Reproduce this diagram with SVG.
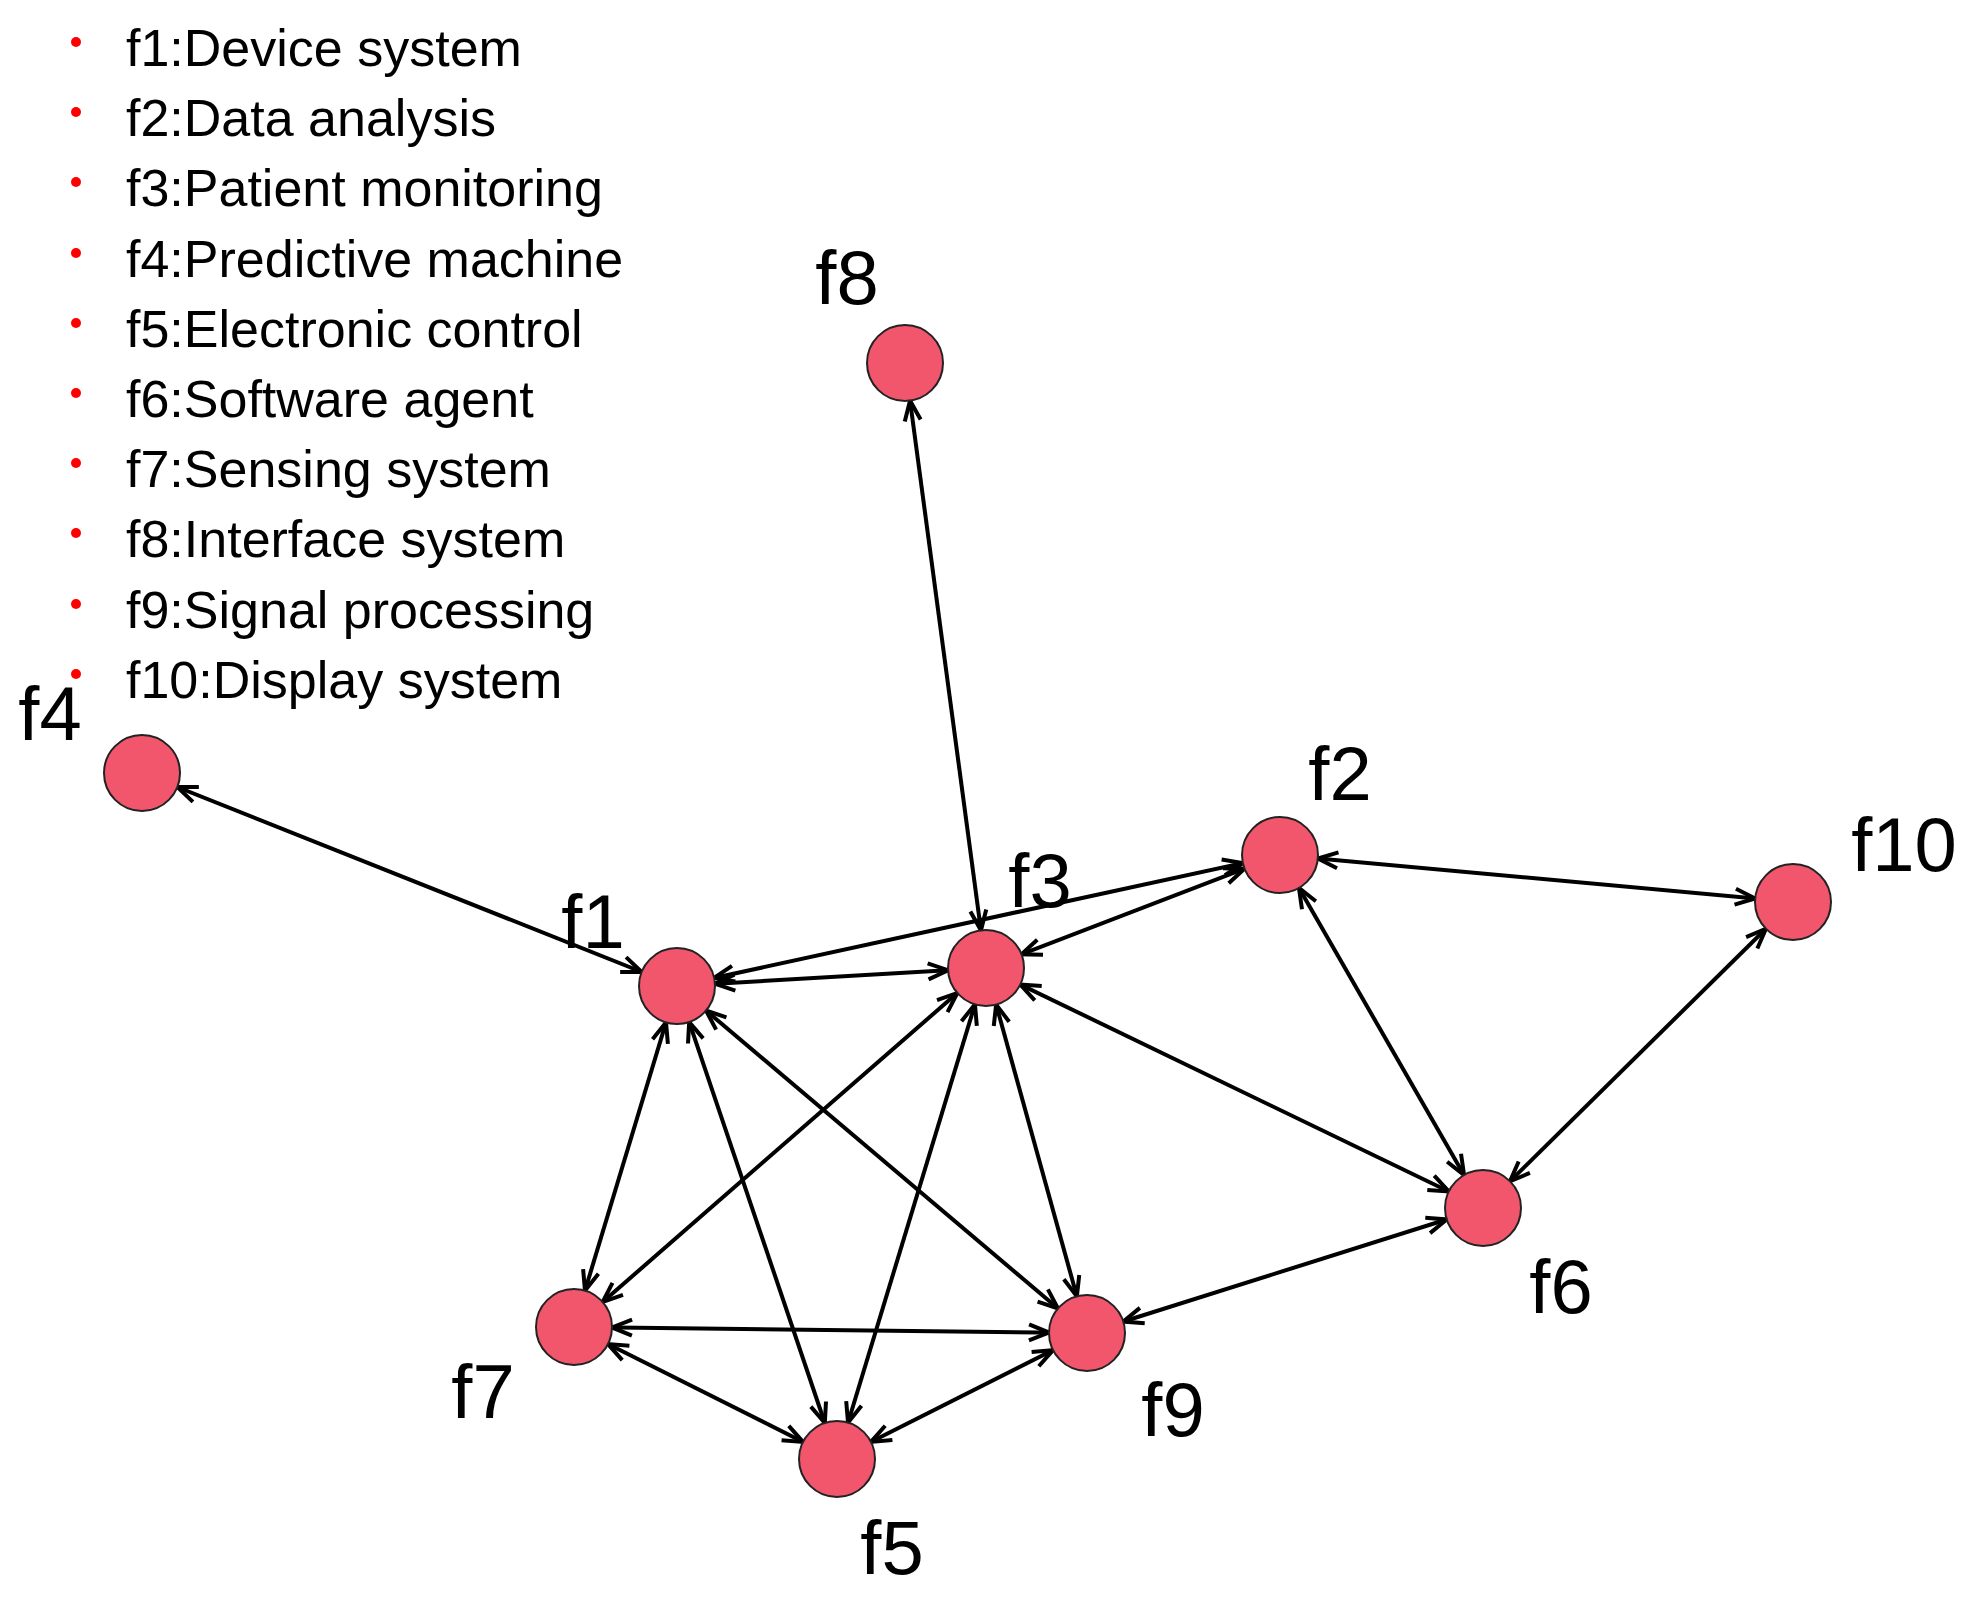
<svg xmlns="http://www.w3.org/2000/svg" width="1977" height="1601" viewBox="0 0 1977 1601">
<style>
.leg{font-family:"Liberation Sans",Arial,sans-serif;font-size:52px;fill:#000}
.lab{font-family:"Liberation Sans",Arial,sans-serif;font-size:76px;fill:#000;text-anchor:middle}
.node{fill:#F2566C;stroke:#222;stroke-width:2}
.e{stroke:#000;stroke-width:4;fill:none;marker-start:url(#ah);marker-end:url(#ah)}
.dot{fill:#ff0000}
</style>
<defs>
<marker id="ah" markerUnits="userSpaceOnUse" orient="auto-start-reverse" refX="38" refY="0" markerWidth="40" markerHeight="40" overflow="visible">
<path d="M-20,-8 L0,0 L-20,8" fill="none" stroke="#000" stroke-width="4"/>
</marker>
</defs>
<rect width="1977" height="1601" fill="#fff"/>
<g id="legend">
<circle class="dot" cx="76" cy="42" r="5"/><text class="leg" x="126" y="66">f1:Device system</text>
<circle class="dot" cx="76" cy="112" r="5"/><text class="leg" x="126" y="136">f2:Data analysis</text>
<circle class="dot" cx="76" cy="182" r="5"/><text class="leg" x="126" y="206">f3:Patient monitoring</text>
<circle class="dot" cx="76" cy="253" r="5"/><text class="leg" x="126" y="277">f4:Predictive machine</text>
<circle class="dot" cx="76" cy="323" r="5"/><text class="leg" x="126" y="347">f5:Electronic control</text>
<circle class="dot" cx="76" cy="393" r="5"/><text class="leg" x="126" y="417">f6:Software agent</text>
<circle class="dot" cx="76" cy="463" r="5"/><text class="leg" x="126" y="487">f7:Sensing system</text>
<circle class="dot" cx="76" cy="533" r="5"/><text class="leg" x="126" y="557">f8:Interface system</text>
<circle class="dot" cx="76" cy="604" r="5"/><text class="leg" x="126" y="628">f9:Signal processing</text>
<circle class="dot" cx="76" cy="674" r="5"/><text class="leg" x="126" y="698">f10:Display system</text>
</g>
<g id="edges">
<line class="e" x1="142" y1="773" x2="677" y2="986"/>
<line class="e" x1="905" y1="363" x2="986" y2="968"/>
<line class="e" x1="677" y1="986" x2="1280" y2="855"/>
<line class="e" x1="677" y1="986" x2="986" y2="968"/>
<line class="e" x1="986" y1="968" x2="1280" y2="855"/>
<line class="e" x1="1280" y1="855" x2="1793" y2="902"/>
<line class="e" x1="1280" y1="855" x2="1483" y2="1208"/>
<line class="e" x1="1793" y1="902" x2="1483" y2="1208"/>
<line class="e" x1="986" y1="968" x2="1483" y2="1208"/>
<line class="e" x1="677" y1="986" x2="574" y2="1327"/>
<line class="e" x1="677" y1="986" x2="837" y2="1459"/>
<line class="e" x1="677" y1="986" x2="1087" y2="1333"/>
<line class="e" x1="986" y1="968" x2="574" y2="1327"/>
<line class="e" x1="986" y1="968" x2="837" y2="1459"/>
<line class="e" x1="986" y1="968" x2="1087" y2="1333"/>
<line class="e" x1="574" y1="1327" x2="1087" y2="1333"/>
<line class="e" x1="574" y1="1327" x2="837" y2="1459"/>
<line class="e" x1="837" y1="1459" x2="1087" y2="1333"/>
<line class="e" x1="1087" y1="1333" x2="1483" y2="1208"/>
</g>
<g id="f1"><circle class="node" cx="677" cy="986" r="38"/><text class="lab" x="593" y="948">f1</text></g>
<g id="f2"><circle class="node" cx="1280" cy="855" r="38"/><text class="lab" x="1340" y="800">f2</text></g>
<g id="f3"><circle class="node" cx="986" cy="968" r="38"/><text class="lab" x="1040" y="907">f3</text></g>
<g id="f4"><circle class="node" cx="142" cy="773" r="38"/><text class="lab" x="50" y="740">f4</text></g>
<g id="f5"><circle class="node" cx="837" cy="1459" r="38"/><text class="lab" x="892" y="1574">f5</text></g>
<g id="f6"><circle class="node" cx="1483" cy="1208" r="38"/><text class="lab" x="1561" y="1313">f6</text></g>
<g id="f7"><circle class="node" cx="574" cy="1327" r="38"/><text class="lab" x="483" y="1418">f7</text></g>
<g id="f8"><circle class="node" cx="905" cy="363" r="38"/><text class="lab" x="847" y="304">f8</text></g>
<g id="f9"><circle class="node" cx="1087" cy="1333" r="38"/><text class="lab" x="1173" y="1436">f9</text></g>
<g id="f10"><circle class="node" cx="1793" cy="902" r="38"/><text class="lab" x="1904" y="871">f10</text></g>
</svg>
